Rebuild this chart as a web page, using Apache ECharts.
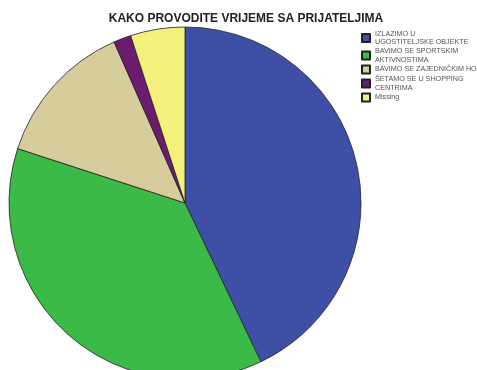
<!DOCTYPE html>
<html><head><meta charset="utf-8">
<script src="https://cdn.jsdelivr.net/npm/echarts@6/dist/echarts.min.js"></script>
<style>html,body{margin:0;padding:0;background:#fff}#c{width:477px;height:370px}</style>
</head><body><div id="c"></div>
<script>
const categories = [
  "IZLAZIMO U\nUGOSTITELJSKE OBJEKTE",
  "BAVIMO SE SPORTSKIM\nAKTIVNOSTIMA",
  "BAVIMO SE ZAJEDNIČKIM HOBIJEM",
  "ŠETAMO SE U SHOPPING\nCENTRIMA",
  "Missing"
];
const values = [42.9, 37.1, 13.4, 1.6, 5.0];
const colors = ["#3f4fa6", "#3cba48", "#d7cc9c", "#6c1c6f", "#f4f07c"];
const title = "KAKO PROVODITE VRIJEME SA PRIJATELJIMA";

const chart = echarts.init(document.getElementById('c'), null, {renderer: 'canvas'});
chart.setOption({
  animation: false,
  backgroundColor: '#fff',
  title: {
    text: title, left: 241, top: 8, textAlign: 'center',
    textStyle: {fontFamily: 'Liberation Sans', fontSize: 12, fontWeight: 'bold', color: '#222'}
  },
  legend: {
    orient: 'vertical', left: 361, top: 29.5, itemGap: 0.5, padding: 0,
    itemWidth: 8, itemHeight: 8, icon: 'rect',
    data: categories,
    textStyle: {fontFamily: 'Liberation Sans', fontSize: 7.2, color: '#555', lineHeight: 8.5},
    selectedMode: false
  },
  series: [{
    type: 'pie', center: [185, 203], radius: 176,
    startAngle: 90, clockwise: true,
    label: {show: false}, labelLine: {show: false},
    itemStyle: {borderColor: '#222', borderWidth: 0.8},
    data: categories.map((n, i) => ({name: n, value: values[i], itemStyle: {color: colors[i]}}))
  }]
});
</script></body></html>
